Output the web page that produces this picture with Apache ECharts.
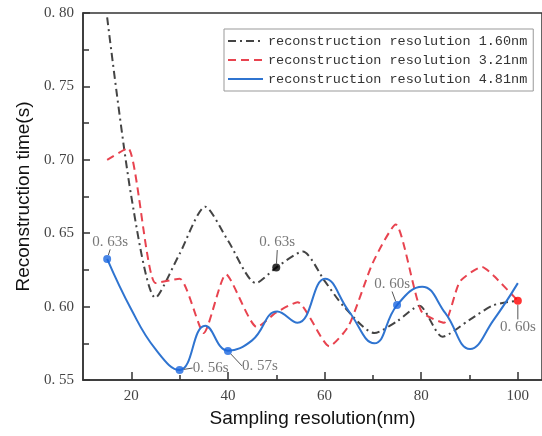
<!DOCTYPE html>
<html>
<head>
<meta charset="utf-8">
<script src="https://cdn.jsdelivr.net/npm/echarts@6/dist/echarts.min.js"></script>
<style>
  html, body { margin: 0; padding: 0; background: #fff; }
  #chart { width: 542px; height: 436px; }
</style>
</head>
<body>
<div id="chart"></div>
<script>
// series values: [sampling resolution (nm), time (s)]
const res160 = [[15, 0.797], [20, 0.675], [25, 0.606], [30, 0.636], [35.3, 0.668], [40, 0.645],
  [45.8, 0.616], [50, 0.6266], [55.5, 0.6375], [60, 0.6175], [64, 0.600], [70.3, 0.582],
  [75, 0.590], [79.6, 0.6005], [84.4, 0.5795], [90, 0.591], [95, 0.601], [100, 0.604]]
const res321 = [[15, 0.700], [19.3, 0.708], [25, 0.616], [30, 0.619], [35, 0.582], [39.6, 0.622],
  [46, 0.586], [50, 0.596], [54.4, 0.603], [61, 0.573], [65, 0.587], [70, 0.630], [74.7, 0.656],
  [80, 0.597], [84.7, 0.589], [88, 0.617], [92.6, 0.627], [95, 0.621], [100, 0.604]]
const res481 = [[15, 0.6325], [20, 0.598], [25, 0.571], [30, 0.5568], [35.3, 0.587], [40, 0.570],
  [45, 0.577], [50.2, 0.5966], [54.4, 0.589], [60.1, 0.619], [65, 0.597], [70.3, 0.575],
  [75, 0.601], [80.2, 0.6136], [85, 0.5955], [90.1, 0.5711], [95, 0.591], [100, 0.616]]

const seriesNames = ['reconstruction resolution 1.60nm', 'reconstruction resolution 3.21nm', 'reconstruction resolution 4.81nm']

// annotated points
const blueMarks = [[15, 0.6325], [30, 0.5568], [40, 0.5698], [75, 0.6011]]
const blackMarks = [[50, 0.6266]]
const redMarks = [[100, 0.6039]]

// tick labels
const xMajorTicks = [20, 40, 60, 80, 100]
const xMinorTicks = [30, 50, 70, 90]

// label offsets (text centre relative to marker), indexed like the mark arrays
const blueOffsets = [[3, -17], [31, -2], [32, 15], [-5, -21]]
const blackOffsets = [[1, -25]]
const redOffsets = [[0, 26]]

const fmt = v => v.toFixed(2).replace('.', '. ')
const serif = 'Liberation Serif'

function markSeries (pts, offsets, color) {
  return {
    type: 'scatter',
    data: pts,
    symbolSize: 8,
    z: 5,
    itemStyle: { color: color },
    label: {
      show: true,
      position: 'inside',
      formatter: p => fmt(p.value[1]) + 's',
      fontFamily: serif,
      fontSize: 15,
      color: '#555'
    },
    labelLayout: p => ({ dx: offsets[p.dataIndex][0], dy: offsets[p.dataIndex][1] }),
    labelLine: { show: true, lineStyle: { color: '#555', width: 1 } }
  }
}

const chart = echarts.init(document.getElementById('chart'), null, { renderer: 'canvas' })
chart.setOption({
  animation: false,
  backgroundColor: '#fff',
  grid: { left: 83, right: -1, top: 13, bottom: 56, show: true, borderColor: '#333', borderWidth: 1.5, backgroundColor: 'transparent' },
  legend: {
    data: seriesNames,
    orient: 'vertical',
    left: 224,
    top: 29,
    padding: [5, 6, 5, 3],
    itemGap: 5,
    itemWidth: 35,
    itemHeight: 14,
    borderColor: '#999',
    borderWidth: 1,
    backgroundColor: '#fff',
    itemStyle: { opacity: 0 },
    textStyle: { fontFamily: 'Liberation Mono', fontSize: 13.5, color: '#333' }
  },
  xAxis: [{
    type: 'value',
    min: 10,
    max: 105,
    name: 'Sampling resolution(nm)',
    nameLocation: 'middle',
    nameGap: 28,
    nameTextStyle: { fontFamily: 'Liberation Sans', fontSize: 19, color: '#111' },
    axisLine: { lineStyle: { color: '#333', width: 1.5 } },
    axisTick: { inside: true, length: 8, customValues: xMajorTicks, lineStyle: { color: '#333', width: 1.5 } },
    axisLabel: { customValues: xMajorTicks, margin: 9, fontFamily: serif, fontSize: 15, color: '#444' },
    splitLine: { show: false }
  }, {
    type: 'value',
    min: 10,
    max: 105,
    position: 'bottom',
    axisLine: { show: false },
    axisTick: { inside: true, length: 5, customValues: xMinorTicks, lineStyle: { color: '#333', width: 1.5 } },
    axisLabel: { show: false },
    splitLine: { show: false }
  }],
  yAxis: {
    type: 'value',
    min: 0.55,
    max: 0.80,
    interval: 0.05,
    name: 'Reconstruction time(s)',
    nameLocation: 'middle',
    nameGap: 48,
    nameTextStyle: { fontFamily: 'Liberation Sans', fontSize: 19, color: '#111' },
    axisLine: { show: true, lineStyle: { color: '#333', width: 1.5 } },
    axisTick: { inside: true, length: 7, lineStyle: { color: '#333', width: 1.5 } },
    minorTick: { show: true, splitNumber: 2, length: 6, lineStyle: { color: '#333', width: 1.5 } },
    axisLabel: { formatter: fmt, margin: 9, fontFamily: serif, fontSize: 15, color: '#444' },
    splitLine: { show: false }
  },
  series: [{
    name: seriesNames[0],
    type: 'line',
    data: res160,
    smooth: 0.25,
    symbol: 'none',
    lineStyle: { color: '#444', width: 2, type: [8, 4, 2, 4] },
    itemStyle: { color: '#444' }
  }, {
    name: seriesNames[1],
    type: 'line',
    data: res321,
    smooth: 0.2,
    symbol: 'none',
    lineStyle: { color: '#e8434f', width: 2, type: [8, 5] },
    itemStyle: { color: '#e8434f' }
  }, {
    name: seriesNames[2],
    type: 'line',
    data: res481,
    smooth: 0.45,
    symbol: 'none',
    lineStyle: { color: '#2f74d0', width: 2 },
    itemStyle: { color: '#2f74d0' }
  },
  markSeries(blueMarks, blueOffsets, '#1a66e0'),
  markSeries(blackMarks, blackOffsets, '#000'),
  markSeries(redMarks, redOffsets, '#f00')]
})
</script>
</body>
</html>
